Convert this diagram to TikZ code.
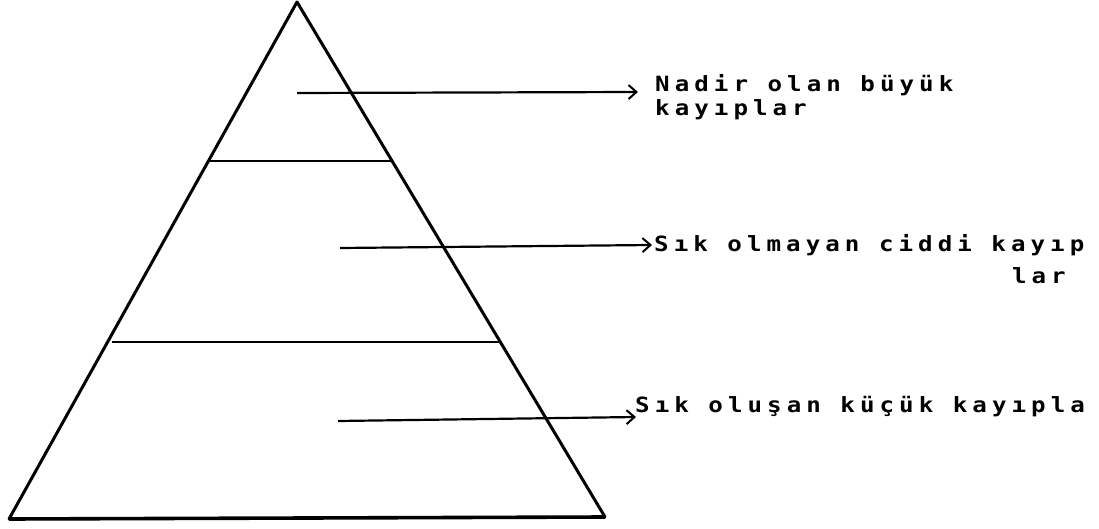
\documentclass[tikz,border=0pt]{standalone}
\usepackage{fontspec}
\usetikzlibrary{arrows.meta}
\newfontfamily\dotfont[LetterSpace=24, FakeStretch=1.15]{DejaVu Sans Mono}

\tikzset{
    edge/.style={line width=3pt, line cap=round, line join=round},
    band/.style={line width=2.8pt},
    pointer/.style={line width=2.2pt, -{Straight Barb[length=8pt, width=14pt, line width=2pt]}},
    label/.style={anchor=north west, inner sep=0pt, align=left, font=\dotfont\bfseries\fontsize{21}{24}\selectfont}
}

\begin{document}
\begin{tikzpicture}[x=1pt, y=-1pt]
    \useasboundingbox (0,0) rectangle (1099,529);

    % Define coordinates
    \coordinate (T) at (297,2);
    \coordinate (L) at (9,519);
    \coordinate (R) at (605,517);
    \coordinate (U1) at (210,161);
    \coordinate (U2) at (391,161);
    \coordinate (M1) at (112,342);
    \coordinate (M2) at (501,342);

    % Draw the pyramid
    \draw[edge] (L) -- (T) -- (R);
    \draw[line width=3.6pt] (L) -- (R);
    \draw[band] (U1) -- (U2);
    \draw[band] (M1) -- (M2);

    % Labels
    \node[label] (top) at (655,74.5) {Nadir olan büyük\\kayıplar};
    \node[label, font=\dotfont\bfseries\fontsize{21}{32}\selectfont] (mid) at (654,234) {Sık olmayan ciddi kayıp\\\phantom{Sık olmayan ciddi k}\hspace{6pt}lar};
    \node[label] (low) at (635,396.5) {Sık oluşan küçük kayıpla};

    % Draw arrows
    \coordinate (s1) at (297,93);
    \coordinate (e1) at (638,92);
    \coordinate (s2) at (340,248);
    \coordinate (e2) at (652,245);
    \coordinate (s3) at (338,421);
    \coordinate (e3) at (636,417);
    \draw[pointer] (s1) -- (e1);
    \draw[pointer] (s2) -- (e2);
    \draw[pointer] (s3) -- (e3);
\end{tikzpicture}
\end{document}
